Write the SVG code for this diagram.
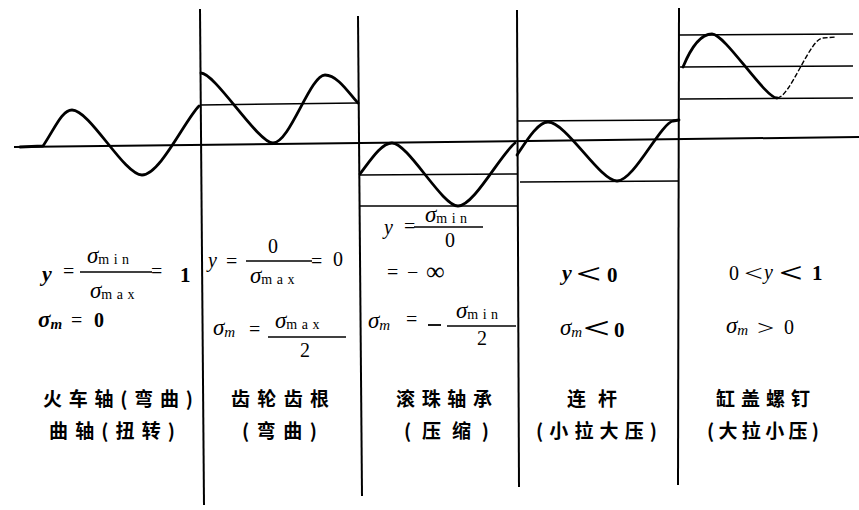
<svg xmlns="http://www.w3.org/2000/svg" width="859" height="510" viewBox="0 0 859 510">
<style>
.bg{fill:#fff}
.v{stroke:#000;stroke-width:2;fill:none}
.h{stroke:#000;stroke-width:1.6;fill:none}
.w{stroke:#000;stroke-width:2.8;fill:none;stroke-linecap:round;stroke-linejoin:round}
.wt{stroke:#000;stroke-width:1.4;fill:none;stroke-dasharray:5 2}
.fl{stroke:#000;stroke-width:1.5}
.m{font-family:"Liberation Serif","DejaVu Serif",serif;font-size:20px;fill:#000}
.i{font-style:italic}
.g{font-size:23px}
.b{font-weight:bold}
.s{font-size:14px;letter-spacing:4.5px;font-style:normal}
.sm{font-size:15px}
.cn{font-family:"Noto Sans CJK SC","Noto Sans CJK TC",sans-serif;font-size:19px;font-weight:bold;fill:#000}
</style>
<rect class="bg" width="859" height="510"/>
<g id="frame">
<line class="v" x1="200" y1="9" x2="204" y2="505"/>
<line class="v" x1="358" y1="16" x2="362" y2="496"/>
<line class="v" x1="517" y1="10" x2="519" y2="487"/>
<line class="v" x1="679" y1="8" x2="678" y2="485"/>
<line class="h" x1="14" y1="147" x2="859" y2="137" style="stroke-width:2"/>
</g>
<g id="panel1">
<path class="w" d="M20,147 L43,146 C55,128 62,110 72,110 C90,110 124,175 142,175 C160,175 185,120 199,106"/>
<g class="m">
<text class="i b" x="42" y="281" style="font-size:22px">y</text>
<text x="63" y="278">=</text>
<line class="fl" x1="80" y1="272" x2="152" y2="272"/>
<text class="i g" x="87" y="263">σ<tspan class="s" dy="1">min</tspan></text>
<text class="i g" x="90" y="298">σ<tspan class="s" dy="1">max</tspan></text>
<text x="151" y="278">=</text>
<text class="b" x="180" y="282" style="font-size:21px">1</text>
<text class="i b g" x="38" y="327">σ<tspan class="sm" dy="2">m</tspan></text>
<text x="71" y="327">=</text>
<text class="b" x="94" y="327">0</text>
</g>
<text class="cn" x="43" y="406" textLength="150" lengthAdjust="spacing">火车轴(弯曲)</text>
<text class="cn" x="49" y="438" textLength="126" lengthAdjust="spacing">曲轴(扭转)</text>
</g>
<g id="panel2">
<line class="h" x1="200" y1="105" x2="358" y2="103"/>
<path class="w" d="M201,73 C215,73 258,143 273,143 C290,143 310,75 325,75 C338,75 350,95 358,103"/>
<g class="m">
<text class="i" x="208" y="267">y</text>
<text x="226" y="268">=</text>
<line class="fl" x1="246" y1="261" x2="312" y2="261"/>
<text x="268" y="253">0</text>
<text class="i g" x="250" y="283">σ<tspan class="s" dy="1">max</tspan></text>
<text x="311" y="268">=</text>
<text x="333" y="266">0</text>
<text class="i g" x="213" y="335">σ<tspan class="sm" dy="2">m</tspan></text>
<text x="249" y="336">=</text>
<line class="fl" x1="268" y1="337" x2="346" y2="337"/>
<text class="i g" x="275" y="328">σ<tspan class="s" dy="1">max</tspan></text>
<text x="300" y="357">2</text>
</g>
<text class="cn" x="231" y="406" textLength="98" lengthAdjust="spacing">齿轮齿根</text>
<text class="cn" x="242" y="438" textLength="75" lengthAdjust="spacing">(弯曲)</text>
</g>
<g id="panel3">
<line class="h" x1="360" y1="175" x2="517" y2="174"/>
<line class="h" x1="360" y1="206" x2="517" y2="206"/>
<path class="w" d="M360,174 C372,158 382,143 392,143 C408,143 442,206 458,206 C474,206 500,155 515,143"/>
<g class="m">
<text class="i" x="384" y="234">y</text>
<text x="404" y="233">=</text>
<line class="fl" x1="414" y1="227" x2="483" y2="227"/>
<text class="i g" x="425" y="222">σ<tspan class="s" dy="1">min</tspan></text>
<text x="445" y="247">0</text>
<text x="387" y="279">=</text>
<text x="407" y="279">−</text>
<text x="426" y="280" style="font-size:26px">∞</text>
<text class="i g" x="368" y="328">σ<tspan class="sm" dy="2">m</tspan></text>
<text x="406" y="326">=</text>
<line x1="428" y1="325" x2="441" y2="325" stroke="#000" stroke-width="1.8"/>
<line class="fl" x1="447" y1="326" x2="516" y2="326"/>
<text class="i g" x="456" y="318">σ<tspan class="s" dy="1">min</tspan></text>
<text x="477" y="345">2</text>
</g>
<text class="cn" x="396" y="406" textLength="96" lengthAdjust="spacing">滚珠轴承</text>
<text class="cn" x="404" y="438" textLength="85" lengthAdjust="spacing">(压缩)</text>
</g>
<g id="panel4">
<line class="h" x1="517" y1="121" x2="679" y2="120"/>
<line class="h" x1="520" y1="182" x2="679" y2="181"/>
<path class="w" d="M517,155 C527,140 538,122 548,122 C566,122 600,181 617,181 C634,181 660,124 673,121 L679,120"/>
<g class="m">
<text class="i b" x="562" y="280" style="font-size:22px">y</text>
<text class="b" transform="translate(576,283) scale(1.6,1)" style="font-size:28px">&lt;</text>
<text class="b" x="607" y="282" style="font-size:21px">0</text>
<text class="i g" x="560" y="335">σ<tspan class="sm" dy="2">m</tspan></text>
<text class="b" transform="translate(583,338) scale(1.6,1)" style="font-size:30px">&lt;</text>
<text class="b" x="614" y="337" style="font-size:21px">0</text>
</g>
<text class="cn" x="567" y="406" textLength="50" lengthAdjust="spacing">连杆</text>
<text class="cn" x="536" y="438" textLength="121" lengthAdjust="spacing">(小拉大压)</text>
</g>
<g id="panel5">
<line class="h" x1="679" y1="35" x2="853" y2="34"/>
<line class="h" x1="680" y1="67" x2="853" y2="66"/>
<line class="h" x1="680" y1="99" x2="853" y2="98"/>
<path class="w" d="M683,67 C690,50 700,34 712,34 C725,34 765,98 777,98"/>
<path class="wt" d="M777,98 C790,98 810,38 823,38 L836,37"/>
<g class="m">
<text x="729" y="280">0</text>
<text transform="translate(744,281) scale(1.4,1)" style="font-size:24px">&lt;</text>
<text class="i" x="764" y="279">y</text>
<text class="b" transform="translate(779,282) scale(1.5,1)" style="font-size:28px">&lt;</text>
<text class="b" x="812" y="280" style="font-size:21px">1</text>
<text class="i g" x="726" y="333">σ<tspan class="sm" dy="2">m</tspan></text>
<text transform="translate(757,335) scale(1.4,1)" style="font-size:22px">&gt;</text>
<text x="784" y="334">0</text>
</g>
<text class="cn" x="716" y="406" textLength="94" lengthAdjust="spacing">缸盖螺钉</text>
<text class="cn" x="707" y="438" textLength="112" lengthAdjust="spacing">(大拉小压)</text>
</g>
</svg>
